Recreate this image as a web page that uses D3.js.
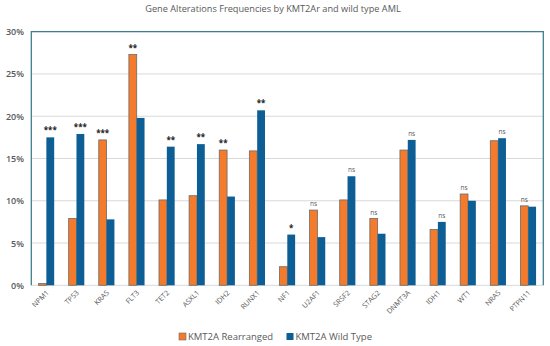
<!DOCTYPE html>
<html lang="en">
<head>
<meta charset="UTF-8">
<title>Gene Alterations Frequencies</title>
<script src="https://cdn.jsdelivr.net/npm/d3@7"></script>
<style>
    body { margin: 0; background: #fff; }
    #chart { width: 550px; height: 346px; }
    text { font-family: "Open Sans", "Noto Sans", sans-serif; }
</style>
</head>
<body>
<div id="chart"></div>
<script>
    const genes = ["NPM1", "TP53", "KRAS", "FLT3", "TET2", "ASXL1", "IDH2", "RUNX1", "NF1",
        "U2AF1", "SRSF2", "STAG2", "DNMT3A", "IDH1", "WT1", "NRAS", "PTPN11"];
    const rearranged = [0.2, 7.9, 17.2, 27.3, 10.1, 10.6, 16.0, 15.9, 2.2, 8.9, 10.1, 7.9, 16.0, 6.6, 10.8, 17.1, 9.4];
    const wildType = [17.5, 17.9, 7.8, 19.8, 16.4, 16.7, 10.5, 20.7, 6.0, 5.7, 12.9, 6.1, 17.2, 7.5, 10.0, 17.4, 9.3];
    const signif = ["***", "***", "***", "**", "**", "**", "**", "**", "*", "ns", "ns", "ns", "ns", "ns", "ns", "ns", "ns"];
    const seriesNames = ["KMT2A Rearranged", "KMT2A Wild Type"];
    const yTicks = [0, 5, 10, 15, 20, 25, 30];

    const colors = ["#f47b2b", "#0d5e95"];
    const plotL = 31.3, plotR = 543.3, plotT = 31.7, plotB = 285.3;

    const svg = d3.select("#chart").append("svg")
        .attr("width", 550).attr("height", 346);

    const x = d3.scaleBand().domain(genes).range([plotL, plotR]).paddingInner(0).paddingOuter(0);
    const inner = d3.scaleBand().domain([0, 1]).range([x.bandwidth() * 0.24, x.bandwidth() * 0.76]);
    const y = d3.scaleLinear().domain([0, 30]).range([plotB, plotT]);

    // title
    svg.append("text")
        .attr("x", 273).attr("y", 12)
        .attr("text-anchor", "middle")
        .attr("font-size", 9.2)
        .attr("fill", "#595959")
        .text("Gene Alterations Frequencies by KMT2Ar and wild type AML");

    // gridlines
    svg.append("g")
        .selectAll("line")
        .data(yTicks)
        .join("line")
        .attr("x1", plotL).attr("x2", plotR)
        .attr("y1", d => y(d)).attr("y2", d => y(d))
        .attr("stroke", "#d9d9d9").attr("stroke-width", 1);

    // y axis labels
    svg.append("g")
        .selectAll("text")
        .data(yTicks)
        .join("text")
        .attr("x", 24).attr("y", d => y(d) + 3.5)
        .attr("text-anchor", "end")
        .attr("font-size", 9)
        .attr("font-weight", 600)
        .attr("fill", "#595959")
        .text(d => d + "%");

    // bars
    const rows = genes.map((g, i) => ({ gene: g, vals: [rearranged[i], wildType[i]], sig: signif[i] }));
    const groups = svg.append("g")
        .selectAll("g")
        .data(rows)
        .join("g")
        .attr("transform", d => `translate(${x(d.gene)},0)`);

    groups.selectAll("rect")
        .data(d => d.vals.map((v, k) => ({ v, k })))
        .join("rect")
        .attr("x", d => inner(d.k))
        .attr("width", inner.bandwidth())
        .attr("y", d => y(d.v))
        .attr("height", d => y(0) - y(d.v))
        .attr("fill", d => colors[d.k])
        .attr("stroke", d => d.k === 0 ? "#6b6b6b" : "none")
        .attr("stroke-width", 0.8);

    // significance marks above taller bar
    groups.append("text")
        .attr("x", d => {
            const k = d.vals[1] > d.vals[0] ? 1 : 0;
            return inner(k) + inner.bandwidth() / 2;
        })
        .attr("y", d => y(d3.max(d.vals)) - 4)
        .attr("text-anchor", "middle")
        .attr("font-size", d => d.sig === "ns" ? 6.5 : 8)
        .attr("font-weight", d => d.sig === "ns" ? 400 : 700)
        .attr("fill", d => d.sig === "ns" ? "#595959" : "#222")
        .text(d => d.sig);

    // plot frame
    svg.append("path")
        .attr("d", `M${plotL},${plotB}V${plotT}H${plotR}V${plotB}`)
        .attr("fill", "none")
        .attr("stroke", "#3d7f91")
        .attr("stroke-width", 1.3);

    // x labels
    svg.append("g")
        .selectAll("text")
        .data(genes)
        .join("text")
        .attr("transform", d => `translate(${x(d) + x.bandwidth() / 2 + 3},${plotB + 8}) rotate(-45)`)
        .attr("text-anchor", "end")
        .attr("font-size", 7.2)
        .attr("fill", "#595959")
        .text(d => d);

    // legend
    const legendX = [179, 286.5];
    const legend = svg.append("g")
        .selectAll("g")
        .data(seriesNames)
        .join("g")
        .attr("transform", (d, i) => `translate(${legendX[i]},333)`);
    legend.append("rect")
        .attr("width", 7).attr("height", 7)
        .attr("fill", (d, i) => colors[i])
        .attr("stroke", (d, i) => i === 0 ? "#6b6b6b" : "none")
        .attr("stroke-width", 0.6);
    legend.append("text")
        .attr("x", 9).attr("y", 7)
        .attr("font-size", 9.5)
        .attr("fill", "#595959")
        .text(d => d);
</script>
</body>
</html>
